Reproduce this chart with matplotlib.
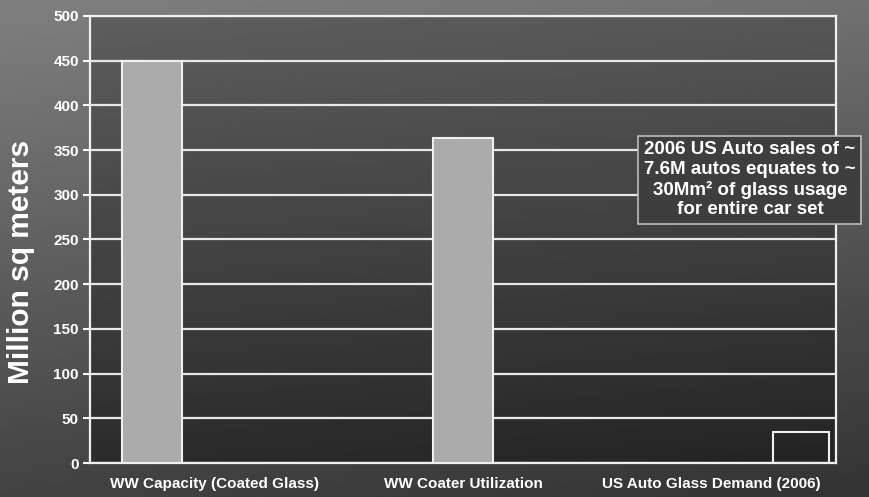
import numpy as np
import matplotlib
matplotlib.use("Agg")
import matplotlib.pyplot as plt

plt.rcParams['font.family'] = ['Liberation Sans', 'DejaVu Sans']

# data
categories = ['WW Capacity (Coated Glass)', 'WW Coater Utilization', 'US Auto Glass Demand (2006)']
values = [450, 363, 35]
bar_offsets = [-0.25, 0.0, 0.36]   # bars sit off-centre in the original slide
bar_widths = [0.24, 0.24, 0.225]
bar_colors = ['#ababab', '#ababab', 'none']
yticks = list(range(0, 501, 50))
note = "2006 US Auto sales of ~\n7.6M autos equates to ~\n30Mm\u00b2 of glass usage\nfor entire car set"

fig = plt.figure(figsize=(8.7, 4.97), dpi=100)

# slide background gradient (light top-left, dark bottom)
bg = fig.add_axes([0, 0, 1, 1], zorder=-10)
yy, xx = np.mgrid[0:1:200j, 0:1:200j]
grad = 0.50 - 0.24 * yy - 0.06 * xx
bg.imshow(grad, cmap='gray', vmin=0, vmax=1, aspect='auto', extent=[0, 1, 0, 1], origin='upper')
bg.axis('off')

ax = fig.add_axes([0.1034, 0.0684, 0.8576, 0.8996])
ax.set_facecolor('none')

# darker plot area gradient
pa = 0.37 - 0.20 * yy - 0.03 * xx
ax.imshow(pa, cmap='gray', vmin=0, vmax=1, aspect='auto',
          extent=[-0.5, 2.5, 0, 500], origin='upper', zorder=0)

x = np.arange(len(categories))
for i in range(len(categories)):
    ax.bar(x[i] + bar_offsets[i], values[i], width=bar_widths[i],
           color=bar_colors[i], edgecolor='#f0f0f0', linewidth=1.5, zorder=3)

ax.set_xlim(-0.5, 2.5)
ax.set_ylim(0, 500)
ax.set_yticks(yticks)
ax.set_xticks(x)
ax.set_xticklabels(categories)
ax.yaxis.grid(True, color='#e8e8e8', linewidth=1.6, zorder=1)
ax.set_axisbelow(True)

for s in ['left', 'bottom', 'right', 'top']:
    ax.spines[s].set_color('#f0f0f0')
    ax.spines[s].set_linewidth(1.6)

ax.tick_params(axis='y', colors='white', length=5, width=1.5, labelsize=11, pad=3)
ax.tick_params(axis='x', colors='white', length=0, labelsize=11, pad=10)
for lab in ax.get_yticklabels() + ax.get_xticklabels():
    lab.set_fontweight('bold')

ax.set_ylabel('Million sq meters', color='white', fontsize=21.5, fontweight='bold')
ax.yaxis.set_label_coords(-0.073, 0.45)

fig.text(0.862, 0.638, note, ha='center', va='center', color='white',
         fontsize=13.5, fontweight='bold', linespacing=1.2, zorder=5,
         bbox=dict(boxstyle='square,pad=0.3', facecolor='#3e3e3e', edgecolor='#bdbdbd', linewidth=1.2))

fig.savefig('out.png', dpi=100)
